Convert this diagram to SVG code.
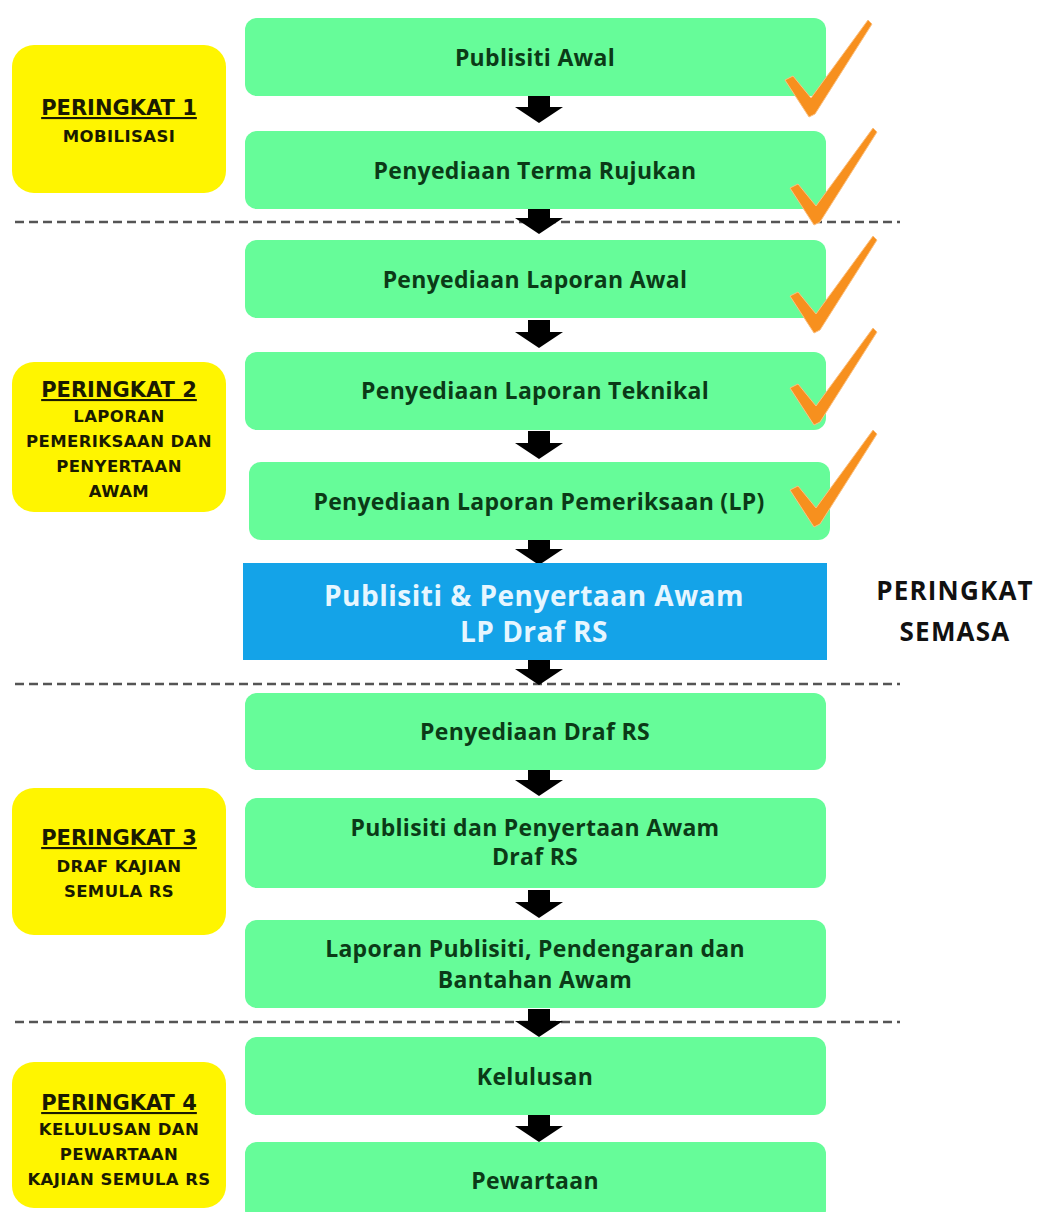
<svg xmlns="http://www.w3.org/2000/svg" width="1044" height="1212" viewBox="0 0 1044 1212">
<style>
.g{fill:#66FC99}
.y{fill:#FFF500}
.t{font-family:"Open Sans","DejaVu Sans",sans-serif;font-weight:bold;font-size:23px;letter-spacing:0.3px;fill:#0b3a17;text-anchor:middle}
.yt{font-family:"DejaVu Sans","Open Sans",sans-serif;font-weight:bold;font-size:21px;fill:#1a1a00;text-anchor:middle;text-decoration:underline}
.ys{font-family:"DejaVu Sans","Open Sans",sans-serif;font-weight:bold;font-size:16.5px;letter-spacing:0.4px;fill:#1a1a00;text-anchor:middle}
.bt{font-family:"Open Sans","DejaVu Sans",sans-serif;font-weight:bold;font-size:28px;letter-spacing:0.5px;fill:#E6F6FF;text-anchor:middle}
.st{font-family:"Open Sans","DejaVu Sans",sans-serif;font-weight:bold;font-size:26px;letter-spacing:1.2px;fill:#111;text-anchor:middle}
.d{stroke:#555;stroke-width:2.5;stroke-dasharray:9 5;fill:none}
.ck{fill:#F7901E;stroke:#FBC080;stroke-width:1}
</style>
<defs>
<path id="arr" d="M-11,0 H11 V12 H24 L0,28 L-24,12 H-11 Z" fill="#000"/>
<path id="chk" d="M-25,-32 L-17,-36 L1,-14 L58,-92 L62,-88 L5,2 L-1,5 Z"/>
</defs>
<rect width="1044" height="1212" fill="#fff"/>

<g id="connectors">
<line class="d" x1="15" y1="222" x2="900" y2="222"/>
<line class="d" x1="15" y1="684" x2="900" y2="684"/>
<line class="d" x1="15" y1="1022" x2="900" y2="1022"/>
<use href="#arr" x="539" y="95"/>
<use href="#arr" x="539" y="206"/>
<use href="#arr" x="539" y="320"/>
<use href="#arr" x="539" y="431"/>
<use href="#arr" x="539" y="537"/>
<use href="#arr" x="539" y="657"/>
<use href="#arr" x="539" y="768"/>
<use href="#arr" x="539" y="890"/>
<use href="#arr" x="539" y="1009"/>
<use href="#arr" x="539" y="1114"/>
</g>

<g id="stage1"><rect class="y" x="12" y="45" width="214" height="148" rx="22"/>
<text class="yt" x="119" y="115">PERINGKAT 1</text>
<text class="ys" x="119" y="142">MOBILISASI</text></g>
<g id="stage2"><rect class="y" x="12" y="362" width="214" height="150" rx="22"/>
<text class="yt" x="119" y="397">PERINGKAT 2</text>
<text class="ys" x="119" y="422">LAPORAN</text>
<text class="ys" x="119" y="447">PEMERIKSAAN DAN</text>
<text class="ys" x="119" y="472">PENYERTAAN</text>
<text class="ys" x="119" y="497">AWAM</text></g>
<g id="stage3"><rect class="y" x="12" y="788" width="214" height="147" rx="22"/>
<text class="yt" x="119" y="845">PERINGKAT 3</text>
<text class="ys" x="119" y="872">DRAF KAJIAN</text>
<text class="ys" x="119" y="897">SEMULA RS</text></g>
<g id="stage4"><rect class="y" x="12" y="1062" width="214" height="146" rx="22"/>
<text class="yt" x="119" y="1110">PERINGKAT 4</text>
<text class="ys" x="119" y="1135">KELULUSAN DAN</text>
<text class="ys" x="119" y="1160">PEWARTAAN</text>
<text class="ys" x="119" y="1185">KAJIAN SEMULA RS</text></g>

<g id="n1"><rect class="g" x="245" y="18" width="581" height="78" rx="12"/><text class="t" x="535" y="66">Publisiti Awal</text></g>
<g id="n2"><rect class="g" x="245" y="131" width="581" height="78" rx="12"/><text class="t" x="535" y="179">Penyediaan Terma Rujukan</text></g>
<g id="n3"><rect class="g" x="245" y="240" width="581" height="78" rx="12"/><text class="t" x="535" y="288">Penyediaan Laporan Awal</text></g>
<g id="n4"><rect class="g" x="245" y="352" width="581" height="78" rx="12"/><text class="t" x="535" y="399">Penyediaan Laporan Teknikal</text></g>
<g id="n5"><rect class="g" x="249" y="462" width="581" height="78" rx="12"/><text class="t" x="539" y="510">Penyediaan Laporan Pemeriksaan (LP)</text></g>
<g id="n6"><rect x="243" y="563" width="584" height="97" fill="#14A3E8"/>
<text class="bt" x="534" y="606">Publisiti &amp; Penyertaan Awam</text>
<text class="bt" x="534" y="642">LP Draf RS</text></g>
<g id="current"><text class="st" x="955" y="600">PERINGKAT</text><text class="st" x="955" y="641">SEMASA</text></g>
<g id="n7"><rect class="g" x="245" y="693" width="581" height="77" rx="12"/><text class="t" x="535" y="740">Penyediaan Draf RS</text></g>
<g id="n8"><rect class="g" x="245" y="798" width="581" height="90" rx="12"/><text class="t" x="535" y="836">Publisiti dan Penyertaan Awam</text><text class="t" x="535" y="865">Draf RS</text></g>
<g id="n9"><rect class="g" x="245" y="920" width="581" height="88" rx="12"/><text class="t" x="535" y="957">Laporan Publisiti, Pendengaran dan</text><text class="t" x="535" y="988">Bantahan Awam</text></g>
<g id="n10"><rect class="g" x="245" y="1037" width="581" height="78" rx="12"/><text class="t" x="535" y="1085">Kelulusan</text></g>
<g id="n11"><rect class="g" x="245" y="1142" width="581" height="80" rx="12"/><text class="t" x="535" y="1189">Pewartaan</text></g>

<g id="checks">
<use href="#chk" class="ck" x="810" y="112"/>
<use href="#chk" class="ck" x="815" y="220"/>
<use href="#chk" class="ck" x="815" y="328"/>
<use href="#chk" class="ck" x="815" y="420"/>
<use href="#chk" class="ck" x="815" y="522"/>
</g>
</svg>
